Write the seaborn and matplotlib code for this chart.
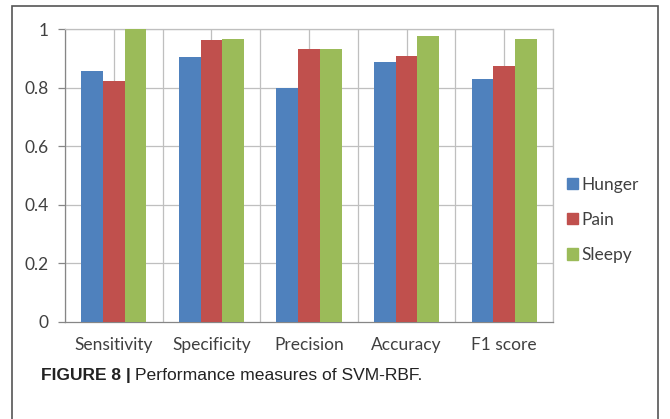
import numpy as np
import pandas as pd
import matplotlib
matplotlib.use("Agg")
import matplotlib.pyplot as plt
import seaborn as sns
from matplotlib.patches import Rectangle

# data
measures = ["Sensitivity", "Specificity", "Precision", "Accuracy", "F1 score"]
hunger = [0.857, 0.903, 0.800, 0.889, 0.829]
pain = [0.824, 0.962, 0.933, 0.908, 0.874]
sleepy = [1.000, 0.965, 0.933, 0.976, 0.965]
classes = ["Hunger", "Pain", "Sleepy"]
colors = ["#4F81BD", "#C0504D", "#9BBB59"]

df = pd.DataFrame({"measure": measures * 3,
                   "cls": np.repeat(classes, len(measures)),
                   "value": hunger + pain + sleepy})

sns.set_style("white")
plt.rcParams["font.family"] = ["Lato", "DejaVu Sans"]

fig = plt.figure(figsize=(6.7, 4.19), dpi=100)
ax = fig.add_axes([65 / 670, 1 - 322 / 419, (553 - 65) / 670, (322 - 29) / 419])

sns.barplot(data=df, x="measure", y="value", hue="cls", order=measures,
            hue_order=classes, palette=colors, width=0.67, saturation=1,
            edgecolor="none", ax=ax, zorder=3)

grid_c = "#BFBFBF"
ax.set_xlim(-0.5, len(measures) - 0.5)
ax.set_ylim(0, 1)
ax.set_yticks(np.arange(0, 1.01, 0.2))
ax.set_yticklabels(["0", "0.2", "0.4", "0.6", "0.8", "1"])
for y in np.arange(0.2, 1.01, 0.2):
    ax.axhline(y, color=grid_c, lw=0.9, zorder=1)
for x in np.arange(-0.5, len(measures), 0.5):
    ax.axvline(x, color=grid_c, lw=0.9, zorder=1)

ax.set_xticks(np.arange(-0.5, len(measures), 1.0), minor=True)
ax.tick_params(axis="x", which="major", length=0, pad=11, labelsize=12.5, labelcolor="#404040")
ax.tick_params(axis="x", which="minor", length=4, color="#868686", width=0.9)
ax.tick_params(axis="y", which="major", length=5, color="#868686", width=0.9,
               pad=7, labelsize=12.5, labelcolor="#404040", left=True)
ax.set_xlabel("")
ax.set_ylabel("")
for s in ax.spines.values():
    s.set_color(grid_c)
    s.set_linewidth(0.9)
ax.spines["left"].set_color("#868686")
ax.spines["bottom"].set_color("#868686")

ax.get_legend().remove()
handles = [Rectangle((0, 0), 1, 1, color=c) for c in colors]
fig.legend(handles, classes, loc="upper left", bbox_to_anchor=(551 / 670, 1 - 161 / 419),
           frameon=False, fontsize=12.5, handlelength=0.65, handleheight=0.65,
           handletextpad=0.2, labelspacing=1.1, labelcolor="#404040")

# outer frame
fig.patches.append(Rectangle((12 / 670, -0.1), (658 - 12) / 670, 1.1 - 6 / 419,
                             transform=fig.transFigure, fill=False,
                             edgecolor="#555555", lw=1.2))

t1 = fig.text(41 / 670, 1 - 380 / 419, "FIGURE 8 |", fontsize=12.5, fontweight="bold",
              family=["Liberation Sans", "DejaVu Sans"], color="#222222")
ax.annotate("Performance measures of SVM-RBF.", xy=(1, 0), xycoords=t1,
            xytext=(3, 0), textcoords="offset points", fontsize=12.6,
            va="bottom", family=["Liberation Sans", "DejaVu Sans"], color="#222222",
            annotation_clip=False)

fig.savefig("out.png", dpi=100)
